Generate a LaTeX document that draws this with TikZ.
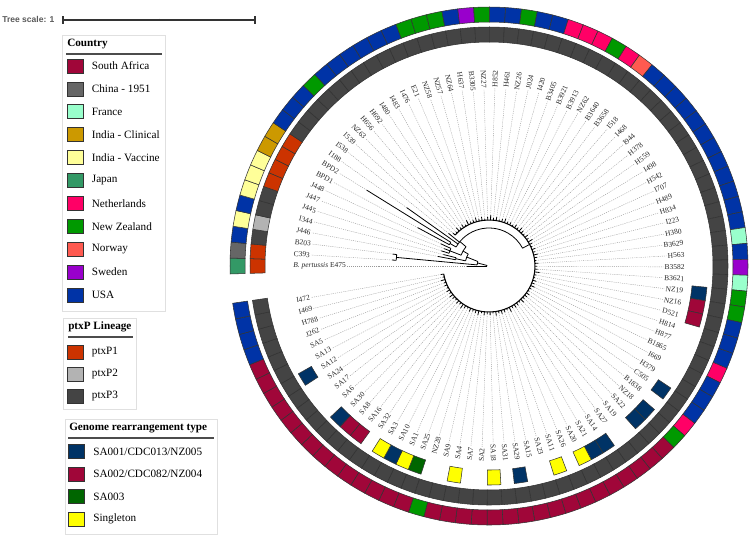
\documentclass[tikz,border=0pt]{standalone}
\usepackage{fontspec}
\setmainfont{Liberation Serif}
\newfontfamily\tscalefam{Liberation Sans}
\usepackage{tikz}
\usetikzlibrary{positioning}
\definecolor{csa}{HTML}{A00639}
\definecolor{cchina}{HTML}{666666}
\definecolor{cfra}{HTML}{99FFCC}
\definecolor{cclin}{HTML}{CC9900}
\definecolor{cvac}{HTML}{FFFF99}
\definecolor{cjap}{HTML}{339966}
\definecolor{cned}{HTML}{FF0066}
\definecolor{cnz}{HTML}{009900}
\definecolor{cnor}{HTML}{FF5A50}
\definecolor{cswe}{HTML}{9900CC}
\definecolor{cusa}{HTML}{0033A6}
\definecolor{pone}{HTML}{CC3300}
\definecolor{ptwo}{HTML}{B3B3B3}
\definecolor{pthree}{HTML}{444444}
\definecolor{gone}{HTML}{003366}
\definecolor{gtwo}{HTML}{A00639}
\definecolor{gthree}{HTML}{006600}
\definecolor{gsing}{HTML}{FFFF00}
\tikzset{
  branch/.style   ={line width=0.6pt,draw=black},
  leader/.style   ={draw=black!40,line width=0.3pt,dash pattern=on 0.8pt off 0.8pt},
  leaf/.style     ={font=\fontsize{5.6}{6}\selectfont,inner sep=0.8pt,text=black!85},
  cell/.style     ={draw=black!80,line width=0.4pt},
  legframe/.style ={draw=black!12,line width=0.5pt},
  legrule/.style  ={draw=black!70,line width=0.9pt},
  legtitle/.style ={font=\fontsize{8.4}{10}\selectfont\bfseries,inner sep=0pt,anchor=west},
  legtext/.style  ={font=\fontsize{8.4}{10}\selectfont,inner sep=0pt,anchor=west},
  swatch/.style   ={draw=black!80,line width=0.5pt,minimum width=12pt,minimum height=10.5pt,inner sep=0pt},
  scaletext/.style={font=\tscalefam\bfseries\fontsize{6.4}{7}\selectfont,text=black!65,inner sep=0pt,anchor=west},
  scalebar/.style ={draw=black!80,line width=0.8pt},
}
% one square of a ring: angle, inner radius, outer radius, colour
\newcommand{\ringcell}[4]{%
  \filldraw[cell,fill=#4] ({#1+1.7675}:#2) arc[start angle={#1+1.7675},end angle={#1-1.7675},radius=#2]
    -- ({#1-1.7675}:#3) arc[start angle={#1-1.7675},end angle={#1+1.7675},radius=#3] -- cycle;}

\begin{document}
\begin{tikzpicture}[x=0.75pt,y=-0.75pt]
  \useasboundingbox (0,0) rectangle (756,537);

  \node[scaletext] (tscale) at (2,19) {Tree scale: 1};
  \coordinate (sbl) at (63,20);
  \coordinate (sbm) at (159,20);
  \coordinate (sbr) at (255,20);
  \draw[scalebar] (sbl) -- (sbr);
  \draw[scalebar] ([yshift=3pt]sbl) -- ([yshift=-3pt]sbl);
  \draw[scalebar] ([yshift=3pt]sbr) -- ([yshift=-3pt]sbr);
  \draw[scalebar,line width=0.6pt] ([yshift=1pt]sbm) -- ([yshift=-1pt]sbm);

  \draw[legframe] (62,35) rectangle (165,311);
  \node[legtitle] (ctitle) at (67,44) {Country};
  \draw[legrule] (66,54) -- (162,54);
  \foreach \c/\t [count=\k from 0] in {csa/South Africa,cchina/China - 1951,cfra/France,cclin/India - Clinical,
      cvac/India - Vaccine,cjap/Japan,cned/Netherlands,cnz/New Zealand,cnor/Norway,cswe/Sweden,cusa/USA}{
    \node[swatch,fill=\c] (cs\k) at (75.3,{66+22.9*\k}) {};
    \node[legtext,right=6pt of cs\k] (ct\k) {\t};
  }

  \draw[legframe] (63,318) rectangle (136,409);
  \node[legtitle] (ptitle) at (68,327) {ptxP Lineage};
  \draw[legrule] (68,337) -- (133,337);
  \foreach \c/\t [count=\k from 0] in {pone/ptxP1,ptwo/ptxP2,pthree/ptxP3}{
    \node[swatch,fill=\c] (ps\k) at (75.3,{352+22*\k}) {};
    \node[legtext,right=6pt of ps\k] (pt\k) {\t};
  }

  \draw[legframe] (65,419) rectangle (217,534);
  \node[legtitle] (gtitle) at (69,428) {Genome rearrangement type};
  \draw[legrule] (68,438) -- (214,438);
  \foreach \c/\t [count=\k from 0] in {gone/{SA001/CDC013/NZ005},gtwo/{SA002/CDC082/NZ004},gthree/SA003,gsing/Singleton}{
    \node[swatch,fill=\c] (gs\k) at (76.7,{451.7+22.5*\k}) {};
    \node[legtext,right=6pt of gs\k] (gt\k) {\t};
  }

  \begin{scope}[shift={(489,266)},y=0.75pt]
    % rings
    \foreach \n/\c in {0/pone,1/pone,2/pthree,3/ptwo,4/pthree,5/pthree,6/pone,7/pone,8/pone,9/pone}{
      \pgfmathsetmacro\ang{180-3.535*\n}
      \ringcell{\ang}{224}{239}{\c}
    }
    \foreach \n in {10,...,99}{
      \pgfmathsetmacro\ang{180-3.535*\n}
      \ringcell{\ang}{224}{239}{pthree}
    }
    \foreach \n/\c in {53/gone,54/gtwo,55/gtwo,61/gone,63/gone,64/gone,67/gone,68/gone,69/gsing,71/gsing,
        74/gone,76/gsing,79/gsing,82/gthree,83/gsing,84/gone,85/gsing,87/gtwo,88/gtwo,89/gone,93/gone}{
      \pgfmathsetmacro\ang{180-3.535*\n}
      \ringcell{\ang}{204}{219}{\c}
    }

    % leaves: label / country / branch base radius / tip radius
    \foreach \lab/\cty/\base/\tip [count=\n from 0] in {
        {\textit{B. pertussis} E475}/cjap/2/22,C393/cchina/93/97,B203/cusa/93/97,J446/cvac/34/52,
        I344/cusa/34/47,J445/cvac/42/50,J447/cvac/42/48,J448/cvac/42/53,BPD1/cclin/45/81,
        BPD2/cclin/45/144,I188/cusa/38/101,I538/cusa/38/52,I539/cusa/46/52,NZ63/cnz/46/50,
        H656/cusa/46/54,H692/cusa/46/51,I480/cusa/46/53,I483/cusa/46/50,I476/cusa/46/55,
        E21/cusa/46/51,NZ58/cnz/46/52,NZ57/cnz/46/54,NZ64/cnz/46/51,H637/cusa/46/53,
        B3305/cswe/46/50,NZ27/cnz/46/52,H852/cusa/46/55,H461/cusa/46/51,NZ26/cnz/46/53,
        J024/cusa/46/50,I420/cusa/46/52,B3405/cned/46/54,B3921/cned/46/51,B3913/cned/46/52,
        NZ62/cnz/46/50,B3640/cned/46/53,B3658/cnor/46/51,I518/cusa/46/54,I468/cusa/46/52,
        I944/cusa/46/50,H378/cusa/46/53,H559/cusa/46/51,I498/cusa/46/55,H542/cusa/46/52,
        I707/cusa/46/50,H489/cusa/46/53,H834/cusa/46/51,I223/cusa/46/54,H380/cusa/46/52,
        B3629/cfra/46/50,H563/cusa/46/53,B3582/cswe/46/51,B3621/cfra/46/52,NZ19/cnz/46/55,
        NZ16/cnz/46/51,D521/cusa/46/50,H814/cusa/46/53,H877/cusa/46/52,B1865/cned/46/54,
        I669/cusa/46/51,H379/cusa/46/50,C505/cusa/46/53,B1838/cned/46/52,NZ18/cnz/46/51,
        SA22/csa/46/54,SA19/csa/46/50,SA27/csa/46/52,SA14/csa/46/53,SA21/csa/46/51,
        SA20/csa/46/55,SA26/csa/46/50,SA11/csa/46/52,SA23/csa/46/53,SA15/csa/46/51,
        SA29/csa/46/54,SA31/csa/46/50,SA18/csa/46/52,SA2/csa/46/51,SA7/csa/46/53,
        SA4/csa/46/50,SA9/csa/46/54,NZ28/cnz/46/52,SA25/csa/46/51,SA1/csa/46/53,
        SA10/csa/46/50,SA3/csa/46/52,SA32/csa/46/55,SA16/csa/46/51,SA8/csa/46/53,
        SA30/csa/46/50,SA6/csa/46/52,SA17/csa/46/54,SA24/csa/46/51,SA12/csa/46/53,
        SA13/csa/46/50,SA5/csa/46/52,J262/cusa/46/51,H788/cusa/46/54,I469/cusa/46/50,
        I472/cusa/46/52}{
      \pgfmathsetmacro\ang{180-3.535*\n}
      \pgfmathtruncatemacro\lft{or(\ang>90,\ang<-90)}
      \pgfmathsetmacro\tipr{ifthenelse(\base==46,46+(\tip-48)*0.7,\tip)}
      \ringcell{\ang}{244}{259}{\cty}
      \coordinate (t\n) at (\ang:\tipr);
      \ifnum\lft=1
        \node[leaf,anchor=west,rotate=\ang+180] (l\n) at (\ang:197) {\lab};
        \draw[leader] (t\n) -- (l\n.east);
      \else
        \node[leaf,anchor=east,rotate=\ang] (l\n) at (\ang:197) {\lab};
        \draw[leader] (t\n) -- (l\n.west);
      \fi
      \draw[branch] (\ang:\base) -- (t\n);
    }

    % inner branches
    \draw[branch] (180:2) arc[start angle=180,end angle=165,radius=2];
    \draw[branch] (165:2) -- (165:12);
    \draw[branch] (174.7:12) arc[start angle=174.7,end angle=158,radius=12];
    \draw[branch] (174.7:12) -- (174.7:93);
    \draw[branch] (176.465:93) arc[start angle=176.465,end angle=172.93,radius=93];
    \draw[branch] (158:12) -- (158:24);
    \draw[branch] (167.6:24) arc[start angle=167.6,end angle=150,radius=24];
    \draw[branch] (167.6:24) -- (167.6:34);
    \draw[branch] (169.395:34) arc[start angle=169.395,end angle=165.86,radius=34];
    \draw[branch] (150:24) -- (150:30);
    \draw[branch] (158.8:30) arc[start angle=158.8,end angle=140,radius=30];
    \draw[branch] (158.8:30) -- (158.8:42);
    \draw[branch] (162.325:42) arc[start angle=162.325,end angle=155.255,radius=42];
    \draw[branch] (140:30) -- (140:38);
    \draw[branch] (150:38) arc[start angle=150,end angle=28,radius=38];
    \draw[branch] (150:38) -- (150:45);
    \draw[branch] (151.72:45) arc[start angle=151.72,end angle=148.185,radius=45];
    \draw[branch] (28:38) -- (28:46);
    \draw[branch,line width=0.8pt] (137.58:46) arc[start angle=137.58,end angle=-169.97,radius=46];
  \end{scope}
\end{tikzpicture}
\end{document}
